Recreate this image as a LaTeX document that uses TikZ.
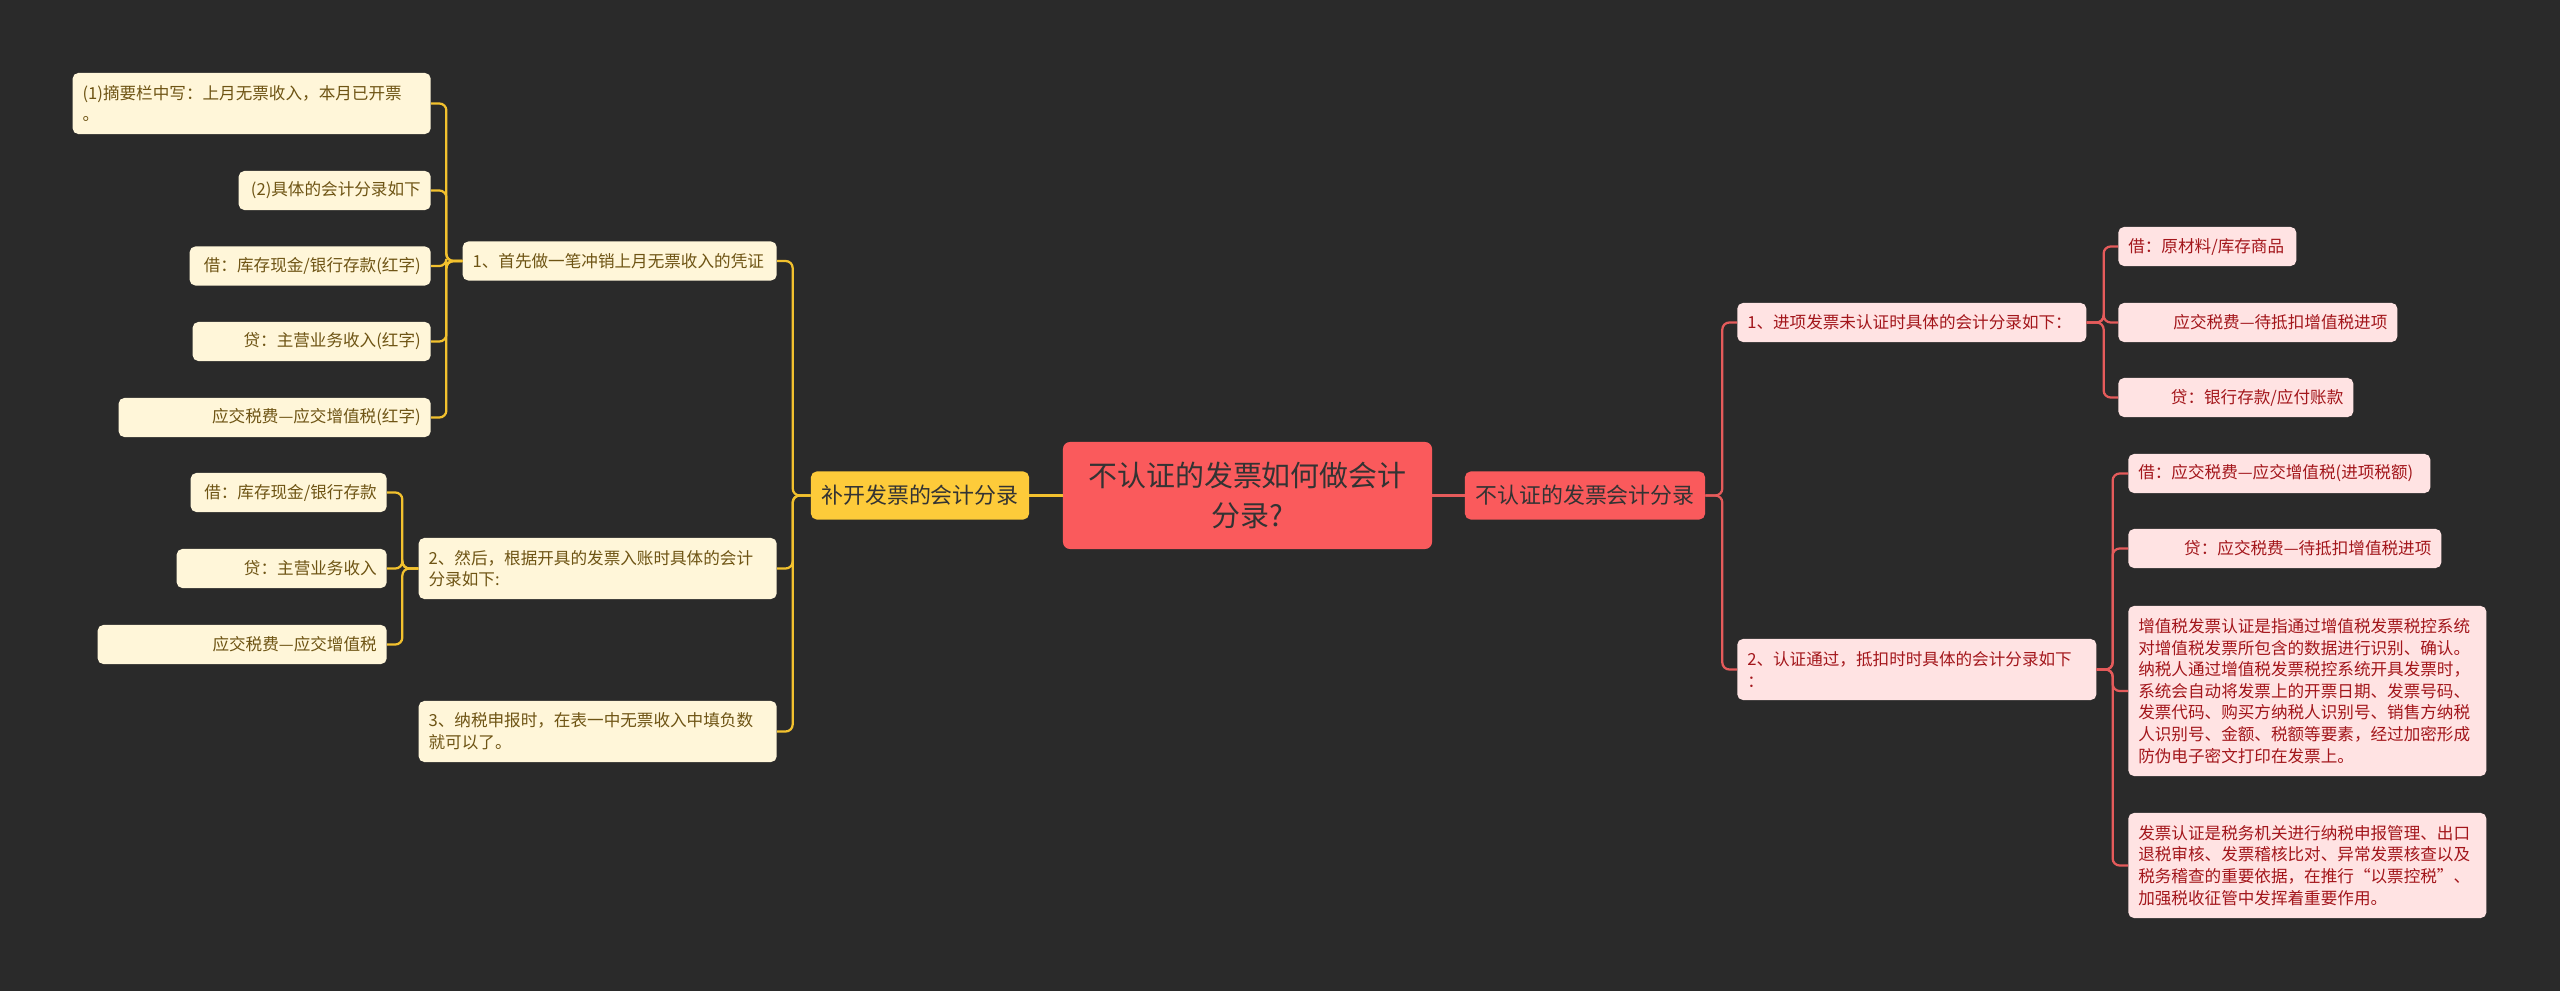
\documentclass[tikz,border=0pt]{standalone}
\usepackage{fontspec}
\setmainfont{Noto Sans CJK SC}

\definecolor{bgdark}{HTML}{2A2A2A}
\definecolor{rootred}{HTML}{FA5A5C}
\definecolor{mainyellow}{HTML}{FDCB3A}
\definecolor{maintext}{HTML}{333333}
\definecolor{yleaffill}{HTML}{FFF6D9}
\definecolor{yleaftext}{HTML}{6E5414}
\definecolor{rleaffill}{HTML}{FFE3E3}
\definecolor{rleaftext}{HTML}{A3161B}
\definecolor{ylinecol}{HTML}{F2C12E}
\definecolor{rlinecol}{HTML}{E55B5B}

\tikzset{
  box/.style={rounded corners=4pt, inner xsep=0.25cm, inner ysep=0pt,
    font=\fontsize{11.8}{15.4}\selectfont},
  yleaf/.style={box, fill=yleaffill, text=yleaftext},
  rleaf/.style={box, fill=rleaffill, text=rleaftext},
  oneline/.style={minimum height=0.975cm},
  twoline/.style={minimum height=1.525cm},
  ylink/.style={draw=ylinecol, line width=1.6pt, rounded corners=5pt},
  rlink/.style={draw=rlinecol, line width=1.6pt, rounded corners=5pt}
}

\begin{document}
\begin{tikzpicture}[x=0.025cm, y=-0.025cm]
  \fill[bgdark] (0,0) rectangle (2560,991);

  % centre and main branches
  \node[fill=rootred, text=maintext, rounded corners=5pt, align=center,
    minimum width=9.225cm, minimum height=2.675cm,
    font=\fontsize{20.6}{29}\selectfont] (root) at (1247.5,495.5)
    {不认证的发票如何做会计\\分录?};
  \node[fill=mainyellow, text=maintext, rounded corners=4pt,
    minimum width=5.45cm, minimum height=1.2cm,
    font=\fontsize{15.6}{20}\selectfont] (bukai) at (920,495.5) {补开发票的会计分录};
  \node[fill=rootred, text=maintext, rounded corners=4pt,
    minimum width=6cm, minimum height=1.2cm,
    font=\fontsize{15.6}{20}\selectfont] (burz) at (1585,495.5) {不认证的发票会计分录};

  % left side
  \node[yleaf, oneline, anchor=east, text width=7.35cm, align=left] (s1) at (777,261)
    {1、首先做一笔冲销上月无票收入的凭证};
  \node[yleaf, twoline, anchor=east, text width=8.45cm, align=left] (s2) at (777,568.5)
    {2、然后，根据开具的发票入账时具体的会计\\分录如下:};
  \node[yleaf, twoline, anchor=east, text width=8.45cm, align=left] (s3) at (777,731.5)
    {3、纳税申报时，在表一中无票收入中填负数\\就可以了。};

  \node[yleaf, twoline, anchor=east, text width=8.45cm, align=left] (s1a) at (431,103.5)
    {(1)摘要栏中写：上月无票收入，本月已开票\\。};
  \node[yleaf, oneline, anchor=east, text width=4.3cm, align=right] (s1b) at (431,190.5)
    {(2)具体的会计分录如下};
  \node[yleaf, oneline, anchor=east, text width=5.525cm, align=right] (s1c) at (431,266)
    {借：库存现金/银行存款(红字)};
  \node[yleaf, oneline, anchor=east, text width=5.45cm, align=right] (s1d) at (431,341.5)
    {贷：主营业务收入(红字)};
  \node[yleaf, oneline, anchor=east, text width=7.3cm, align=right] (s1e) at (431,417.5)
    {应交税费—应交增值税(红字)};

  \node[yleaf, oneline, anchor=east, text width=4.4cm, align=right] (s2a) at (387,492.5)
    {借：库存现金/银行存款};
  \node[yleaf, oneline, anchor=east, text width=4.75cm, align=right] (s2b) at (387,568.5)
    {贷：主营业务收入};
  \node[yleaf, oneline, anchor=east, text width=6.725cm, align=right] (s2c) at (387,644.5)
    {应交税费—应交增值税};

  % right side
  \node[rleaf, oneline, anchor=west, text width=8.225cm, align=left] (r1) at (1737,322.5)
    {1、进项发票未认证时具体的会计分录如下：};
  \node[rleaf, twoline, anchor=west, text width=8.475cm, align=left] (r2) at (1737,669.5)
    {2、认证通过，抵扣时时具体的会计分录如下\\：};

  \node[rleaf, oneline, anchor=west, text width=3.95cm, align=left] (r1a) at (2118,246.5)
    {借：原材料/库存商品};
  \node[rleaf, oneline, anchor=west, text width=6.475cm, align=right] (r1b) at (2118,322.5)
    {应交税费—待抵扣增值税进项};
  \node[rleaf, oneline, anchor=west, text width=5.375cm, align=right] (r1c) at (2118,397.5)
    {贷：银行存款/应付账款};

  \node[rleaf, oneline, anchor=west, text width=7.05cm, align=left] (r2a) at (2128,473.5)
    {借：应交税费—应交增值税(进项税额)};
  \node[rleaf, oneline, anchor=west, text width=7.325cm, align=right] (r2b) at (2128,548.5)
    {贷：应交税费—待抵扣增值税进项};
  \node[rleaf, minimum height=4.25cm, anchor=west, text width=8.45cm, align=left] (r2c) at (2128,691)
    {增值税发票认证是指通过增值税发票税控系统\\对增值税发票所包含的数据进行识别、确认。\\纳税人通过增值税发票税控系统开具发票时，\\系统会自动将发票上的开票日期、发票号码、\\发票代码、购买方纳税人识别号、销售方纳税\\人识别号、金额、税额等要素，经过加密形成\\防伪电子密文打印在发票上。};
  \node[rleaf, minimum height=2.625cm, anchor=west, text width=8.45cm, align=left] (r2d) at (2128,865.5)
    {发票认证是税务机关进行纳税申报管理、出口\\退税审核、发票稽核比对、异常发票核查以及\\税务稽查的重要依据，在推行“以票控税”、\\加强税收征管中发挥着重要作用。};

  % connectors
  \draw[ylink] (root.west) -- (bukai.east);
  \draw[rlink] (root.east) -- (burz.west);

  \draw[ylink] (bukai.west) -- ++(-18,0) |- (s1.east);
  \draw[ylink] (bukai.west) -- ++(-18,0) |- (s2.east);
  \draw[ylink] (bukai.west) -- ++(-18,0) |- (s3.east);

  \draw[ylink] (s1.west) -- ++(-16,0) |- (s1a.east);
  \draw[ylink] (s1.west) -- ++(-16,0) |- (s1b.east);
  \draw[ylink] (s1.west) -- ++(-16,0) |- (s1c.east);
  \draw[ylink] (s1.west) -- ++(-16,0) |- (s1d.east);
  \draw[ylink] (s1.west) -- ++(-16,0) |- (s1e.east);

  \draw[ylink] (s2.west) -- ++(-16,0) |- (s2a.east);
  \draw[ylink] (s2.west) -- ++(-16,0) |- (s2b.east);
  \draw[ylink] (s2.west) -- ++(-16,0) |- (s2c.east);

  \draw[rlink] (burz.east) -- ++(17,0) |- (r1.west);
  \draw[rlink] (burz.east) -- ++(17,0) |- (r2.west);

  \draw[rlink] (r1.east) -- ++(17,0) |- (r1a.west);
  \draw[rlink] (r1.east) -- ++(17,0) |- (r1b.west);
  \draw[rlink] (r1.east) -- ++(17,0) |- (r1c.west);

  \draw[rlink] (r2.east) -- ++(16,0) |- (r2a.west);
  \draw[rlink] (r2.east) -- ++(16,0) |- (r2b.west);
  \draw[rlink] (r2.east) -- ++(16,0) |- (r2c.west);
  \draw[rlink] (r2.east) -- ++(16,0) |- (r2d.west);
\end{tikzpicture}
\end{document}
